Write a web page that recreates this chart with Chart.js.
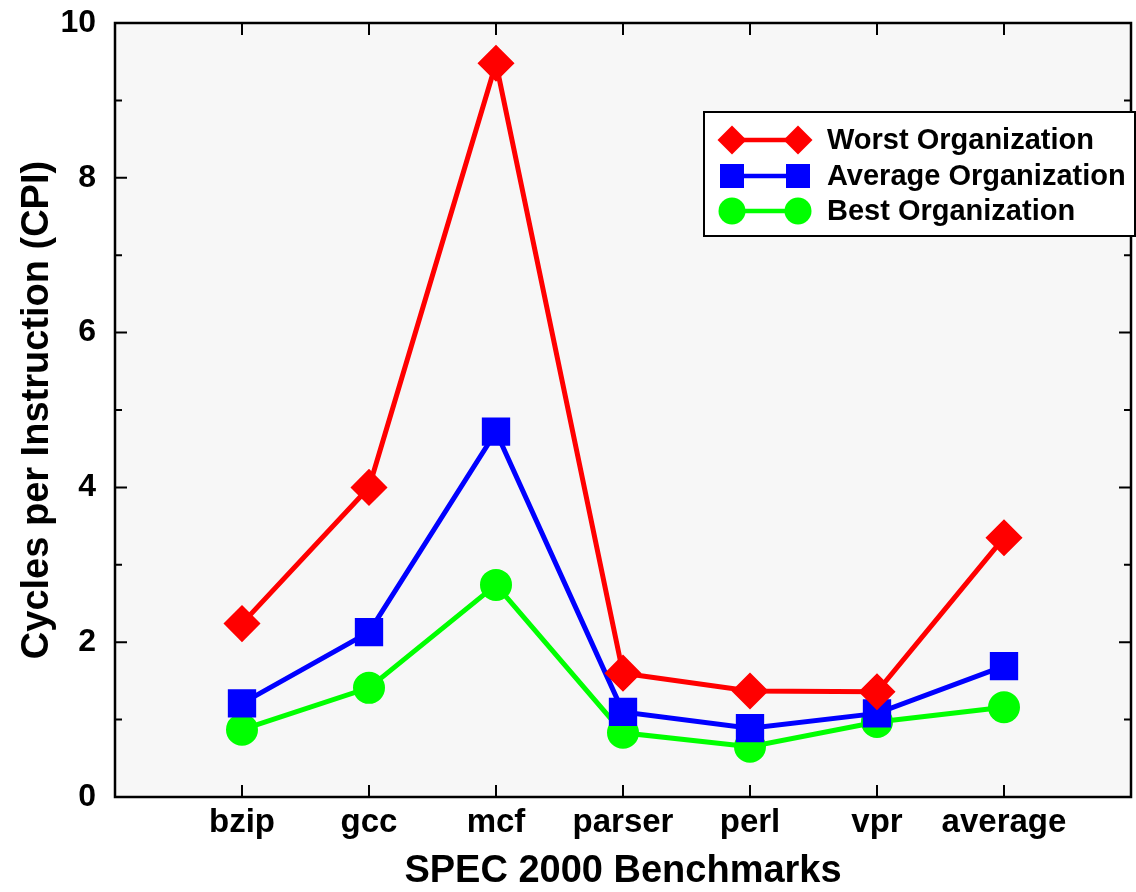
<!DOCTYPE html>
<html lang="en">

<head>
  <meta charset="UTF-8">
  <title>SPEC 2000 CPI</title>
  <script src="https://cdn.jsdelivr.net/npm/chart.js"></script>
  <style>
    body {
      margin: 0;
      background: #fff;
    }

    .chart-container {
      position: relative;
      width: 1136px;
      height: 892px;
    }
  </style>
</head>

<body>
  <div class="chart-container">
    <canvas id="cpiChart"></canvas>
  </div>

  <script>
    const benchmarks = ['bzip', 'gcc', 'mcf', 'parser', 'perl', 'vpr', 'average'];
    const worstOrg = [2.24, 4.0, 9.48, 1.60, 1.37, 1.36, 3.35];
    const averageOrg = [1.21, 2.13, 4.72, 1.10, 0.89, 1.08, 1.69];
    const bestOrg = [0.87, 1.41, 2.74, 0.83, 0.65, 0.97, 1.16];
    const yTicks = [0, 2, 4, 6, 8, 10];

    const FONT = 'Liberation Sans, Arial, sans-serif';

    const toPoints = vals => vals.map((v, i) => ({ x: i + 1, y: v }));

    // marker drawing shared by the legend
    function drawMarker(ctx, style, x, y, r) {
      ctx.beginPath();
      if (style === 'rectRot') {
        ctx.moveTo(x - r, y);
        ctx.lineTo(x, y - r);
        ctx.lineTo(x + r, y);
        ctx.lineTo(x, y + r);
        ctx.closePath();
      } else if (style === 'rect') {
        const s = Math.SQRT1_2 * r;
        ctx.rect(x - s, y - s, 2 * s, 2 * s);
      } else {
        ctx.arc(x, y, r, 0, Math.PI * 2);
      }
      ctx.fill();
    }

    const framePlugin = {
      id: 'frame',
      beforeDraw(chart) {
        const { ctx, chartArea: a } = chart;
        ctx.save();
        ctx.fillStyle = '#f7f7f7';
        ctx.fillRect(a.left, a.top, a.right - a.left, a.bottom - a.top);
        ctx.restore();
      },
      afterDraw(chart) {
        const { ctx, chartArea: a, scales } = chart;
        ctx.save();
        ctx.strokeStyle = '#000';

        // inside ticks on all four sides
        ctx.lineWidth = 2;
        ctx.beginPath();
        for (let v = 0; v <= 10; v++) {
          const y = scales.y.getPixelForValue(v);
          const len = v % 2 === 0 ? 12 : 7;
          ctx.moveTo(a.left, y); ctx.lineTo(a.left + len, y);
          ctx.moveTo(a.right, y); ctx.lineTo(a.right - len, y);
        }
        benchmarks.forEach((b, i) => {
          const x = scales.x.getPixelForValue(i + 1);
          ctx.moveTo(x, a.bottom); ctx.lineTo(x, a.bottom - 12);
          ctx.moveTo(x, a.top); ctx.lineTo(x, a.top + 12);
        });
        ctx.stroke();

        ctx.lineWidth = 2.5;
        ctx.strokeRect(a.left, a.top, a.right - a.left, a.bottom - a.top);

        // legend box
        const lx = 704, ly = 112, lw = 431, lh = 124;
        ctx.fillStyle = '#fff';
        ctx.fillRect(lx, ly, lw, lh);
        ctx.lineWidth = 2;
        ctx.strokeRect(lx, ly, lw, lh);

        const rowY = [140, 176, 211];
        const markerR = [14.5, 17, 13.5];
        chart.data.datasets.forEach((ds, i) => {
          const y = rowY[i];
          ctx.strokeStyle = ds.borderColor;
          ctx.lineWidth = 4.5;
          ctx.beginPath();
          ctx.moveTo(732, y);
          ctx.lineTo(798, y);
          ctx.stroke();
          ctx.fillStyle = ds.backgroundColor;
          drawMarker(ctx, ds.pointStyle, 732, y, markerR[i]);
          drawMarker(ctx, ds.pointStyle, 798, y, markerR[i]);
          ctx.fillStyle = '#000';
          ctx.font = 'bold 29px ' + FONT;
          ctx.textAlign = 'left';
          ctx.textBaseline = 'middle';
          ctx.fillText(ds.label, 827, y + 1);
        });
        ctx.restore();
      }
    };

    const ctx = document.getElementById('cpiChart').getContext('2d');

    new Chart(ctx, {
      type: 'line',
      data: {
        datasets: [{
          label: 'Worst Organization',
          data: toPoints(worstOrg),
          borderColor: '#ff0000',
          backgroundColor: '#ff0000',
          pointStyle: 'rectRot',
          pointRadius: 15,
          borderWidth: 5
        }, {
          label: 'Average Organization',
          data: toPoints(averageOrg),
          borderColor: '#0000ff',
          backgroundColor: '#0000ff',
          pointStyle: 'rect',
          pointRadius: 16.5,
          borderWidth: 5
        }, {
          label: 'Best Organization',
          data: toPoints(bestOrg),
          borderColor: '#00ff00',
          backgroundColor: '#00ff00',
          pointStyle: 'circle',
          pointRadius: 13.5,
          borderWidth: 5
        }]
      },
      options: {
        responsive: true,
        maintainAspectRatio: false,
        animation: false,
        layout: {
          autoPadding: false,
          padding: { left: 0, right: 5, top: 23, bottom: 0 }
        },
        elements: {
          point: { borderWidth: 0, hoverRadius: 15 },
          line: { tension: 0 }
        },
        plugins: {
          legend: { display: false },
          tooltip: { enabled: false }
        },
        scales: {
          x: {
            type: 'linear',
            min: 0,
            max: 8,
            afterBuildTicks: scale => {
              scale.ticks = benchmarks.map((b, i) => ({ value: i + 1 }));
            },
            afterFit: scale => {
              scale.height = 95;
              scale.paddingLeft = 0;
              scale.paddingRight = 0;
            },
            grid: { display: false, drawTicks: false },
            border: { display: false },
            ticks: {
              autoSkip: false,
              maxRotation: 0,
              padding: 6,
              color: '#000',
              font: { family: FONT, size: 33, weight: 'bold' },
              callback: v => benchmarks[v - 1] || ''
            },
            title: {
              display: true,
              text: 'SPEC 2000 Benchmarks',
              color: '#000',
              padding: { top: 0, bottom: 0 },
              font: { family: FONT, size: 38, weight: 'bold', lineHeight: 1.1 }
            }
          },
          y: {
            min: 0,
            max: 10,
            afterBuildTicks: scale => {
              scale.ticks = yTicks.map(v => ({ value: v }));
            },
            afterFit: scale => {
              scale.width = 115;
              scale.paddingTop = 0;
              scale.paddingBottom = 0;
            },
            grid: { display: false, drawTicks: false },
            border: { display: false },
            ticks: {
              padding: 19,
              color: '#000',
              font: { family: FONT, size: 32, weight: 'bold' }
            },
            title: {
              display: true,
              text: 'Cycles per Instruction (CPI)',
              color: '#000',
              padding: { top: 17, bottom: 0 },
              font: { family: FONT, size: 38, weight: 'bold', lineHeight: 1.1 }
            }
          }
        }
      },
      plugins: [framePlugin]
    });
  </script>
</body>

</html>
